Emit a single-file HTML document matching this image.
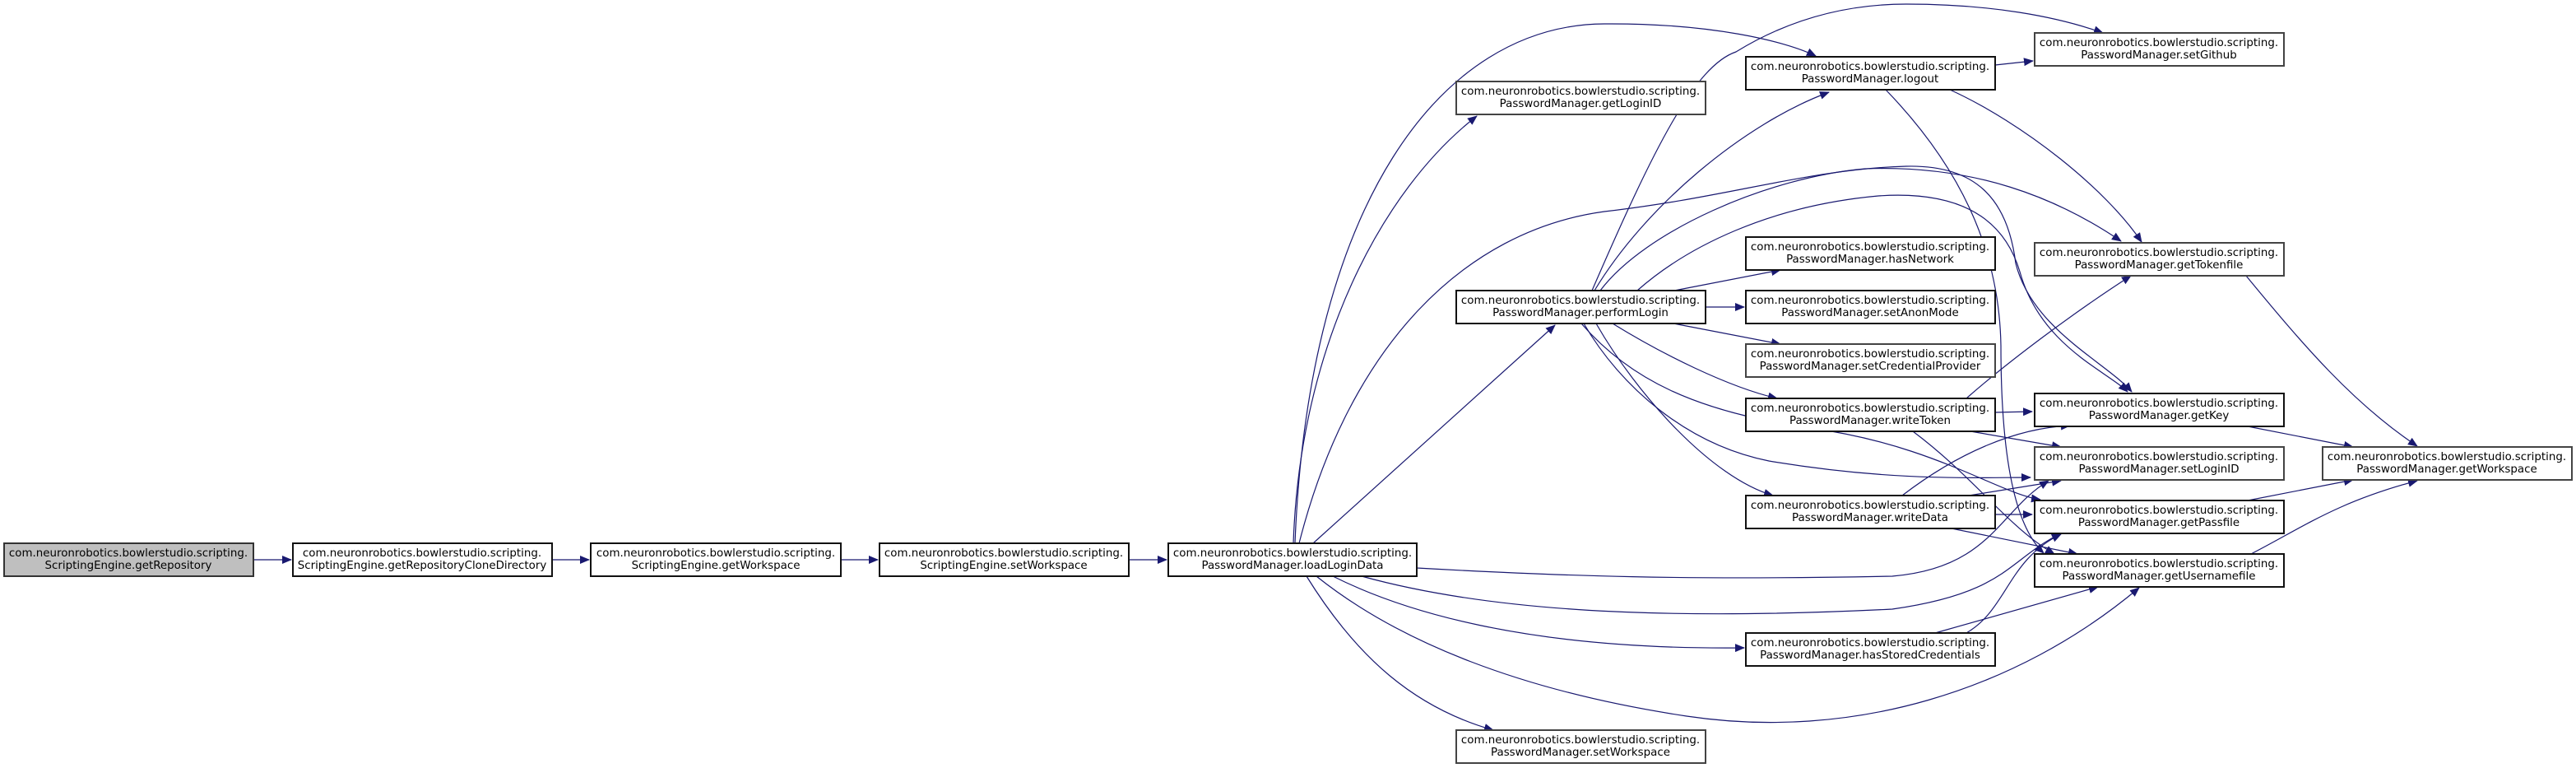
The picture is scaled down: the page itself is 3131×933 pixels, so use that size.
<!DOCTYPE html>
<html><head><meta charset="utf-8">
<style>
html,body{margin:0;padding:0;background:#fff;}
svg{display:block;}
text{font-family:"DejaVu Sans","Liberation Sans",sans-serif;font-size:13.4px;fill:#000;}
</style></head>
<body>
<svg width="3131" height="933" viewBox="0 0 3131 933" xmlns="http://www.w3.org/2000/svg">
<defs>
<marker id="a" markerWidth="12" markerHeight="10" refX="11" refY="5" orient="auto" markerUnits="userSpaceOnUse">
<path d="M0,0 L12,5 L0,10 Z" fill="#191970"/>
</marker>
</defs>
<g fill="none" stroke="#191970" stroke-width="1.2" marker-end="url(#a)">
<path d="M308,680 L354,680"/>
<path d="M671,680 L716,680"/>
<path d="M1022,680 L1067,680"/>
<path d="M1372,680 L1418,680"/>
<!-- loadLoginData edges -->
<path d="M1572,660 C1580,420 1680,230 1795,141"/>
<path d="M1574,660 C1590,250 1750,30 1950,29 C2080,28 2170,50 2207,68"/>
<path d="M1596,660 L1890,395"/>
<path d="M1579,660 C1640,420 1780,280 1950,257 C2100,240 2200,205 2317,202 C2400,200 2440,240 2450,320 C2470,400 2560,440 2591,476"/>
<path d="M1722,690 C1900,700 2050,705 2300,700 C2420,690 2430,620 2490,584"/>
<path d="M1655,700 C1800,740 2000,755 2300,740 C2440,720 2440,680 2505,648"/>
<path d="M1620,700 C1700,740 1850,790 2120,787"/>
<path d="M1600,700 C1700,780 1850,840 2050,870 C2250,900 2450,840 2600,714"/>
<path d="M1588,700 C1650,800 1720,860 1815,887"/>
<!-- performLogin edges -->
<path d="M1938,353 C2000,250 2120,150 2223,112"/>
<path d="M1935,353 C2010,180 2060,80 2110,63 C2180,20 2250,5 2317,5 C2420,5 2500,20 2556,40"/>
<path d="M1945,353 C2000,280 2150,215 2267,205 C2400,200 2500,240 2578,293"/>
<path d="M1990,353 C2050,300 2150,250 2283,238 C2400,230 2440,280 2455,330 C2480,420 2560,450 2586,476"/>
<path d="M2035,353 L2164,328"/>
<path d="M2073,373 L2120,373"/>
<path d="M2034,393 L2164,418"/>
<path d="M1960,393 C2020,430 2100,470 2160,484"/>
<path d="M1940,393 C1990,480 2080,580 2155,602"/>
<path d="M1925,393 C1970,470 2050,540 2150,560 C2300,585 2400,580 2468,580"/>
<path d="M1922,393 C1980,460 2060,500 2200,520 C2350,540 2430,600 2480,607"/>
<!-- logout edges -->
<path d="M2425,79 L2471,74"/>
<path d="M2370,109 C2460,150 2560,230 2603,294"/>
<path d="M2292,109 C2380,200 2430,300 2432,420 C2432,560 2450,640 2484,672"/>
<!-- writeToken edges -->
<path d="M2424,501 L2470,500"/>
<path d="M2390,484 C2440,440 2520,380 2590,335"/>
<path d="M2395,524 L2505,543"/>
<path d="M2325,524 C2400,580 2440,640 2497,673"/>
<!-- writeData edges -->
<path d="M2312,602 C2380,550 2450,520 2516,517"/>
<path d="M2393,602 L2505,584"/>
<path d="M2424,625 L2470,625"/>
<path d="M2372,642 L2525,673"/>
<!-- hasStoredCredentials edges -->
<path d="M2352,769 L2550,713"/>
<path d="M2390,769 C2440,740 2440,680 2505,649"/>
<!-- to getWorkspace -->
<path d="M2730,335 C2800,420 2860,490 2938,542"/>
<path d="M2732,518 L2860,543"/>
<path d="M2732,608 L2860,583"/>
<path d="M2736,673 C2800,640 2840,610 2938,584"/>
</g>
<g stroke-width="2">
<rect x="5" y="660" width="303" height="40" fill="#bfbfbf" stroke="#333"/>
<rect x="356" y="660" width="315" height="40" fill="#fff" stroke="#111"/>
<rect x="718" y="660" width="304" height="40" fill="#fff" stroke="#111"/>
<rect x="1069" y="660" width="303" height="40" fill="#fff" stroke="#111"/>
<rect x="1420" y="660" width="302" height="40" fill="#fff" stroke="#111"/>
<rect x="1770" y="99" width="303" height="40" fill="#fff" stroke="#444"/>
<rect x="1770" y="353" width="303" height="40" fill="#fff" stroke="#111"/>
<rect x="1770" y="887" width="303" height="40" fill="#fff" stroke="#444"/>
<rect x="2122" y="69" width="303" height="40" fill="#fff" stroke="#111"/>
<rect x="2122" y="288" width="303" height="40" fill="#fff" stroke="#111"/>
<rect x="2122" y="353" width="303" height="40" fill="#fff" stroke="#111"/>
<rect x="2122" y="418" width="303" height="40" fill="#fff" stroke="#444"/>
<rect x="2122" y="484" width="303" height="40" fill="#fff" stroke="#111"/>
<rect x="2122" y="602" width="303" height="40" fill="#fff" stroke="#111"/>
<rect x="2122" y="769" width="303" height="40" fill="#fff" stroke="#111"/>
<rect x="2473" y="40" width="303" height="40" fill="#fff" stroke="#444"/>
<rect x="2473" y="295" width="303" height="40" fill="#fff" stroke="#444"/>
<rect x="2473" y="478" width="303" height="40" fill="#fff" stroke="#111"/>
<rect x="2473" y="543" width="303" height="40" fill="#fff" stroke="#444"/>
<rect x="2473" y="608" width="303" height="40" fill="#fff" stroke="#111"/>
<rect x="2473" y="673" width="303" height="40" fill="#fff" stroke="#111"/>
<rect x="2823" y="543" width="303" height="40" fill="#fff" stroke="#444"/>
</g>
<g text-anchor="middle">
<text x="156" y="676">com.neuronrobotics.bowlerstudio.scripting.</text><text x="156" y="691">ScriptingEngine.getRepository</text>
<text x="513" y="676">com.neuronrobotics.bowlerstudio.scripting.</text><text x="513" y="691">ScriptingEngine.getRepositoryCloneDirectory</text>
<text x="870" y="676">com.neuronrobotics.bowlerstudio.scripting.</text><text x="870" y="691">ScriptingEngine.getWorkspace</text>
<text x="1220" y="676">com.neuronrobotics.bowlerstudio.scripting.</text><text x="1220" y="691">ScriptingEngine.setWorkspace</text>
<text x="1571" y="676">com.neuronrobotics.bowlerstudio.scripting.</text><text x="1571" y="691">PasswordManager.loadLoginData</text>
<text x="1921" y="115">com.neuronrobotics.bowlerstudio.scripting.</text><text x="1921" y="130">PasswordManager.getLoginID</text>
<text x="1921" y="369">com.neuronrobotics.bowlerstudio.scripting.</text><text x="1921" y="384">PasswordManager.performLogin</text>
<text x="1921" y="903">com.neuronrobotics.bowlerstudio.scripting.</text><text x="1921" y="918">PasswordManager.setWorkspace</text>
<text x="2273" y="85">com.neuronrobotics.bowlerstudio.scripting.</text><text x="2273" y="100">PasswordManager.logout</text>
<text x="2273" y="304">com.neuronrobotics.bowlerstudio.scripting.</text><text x="2273" y="319">PasswordManager.hasNetwork</text>
<text x="2273" y="369">com.neuronrobotics.bowlerstudio.scripting.</text><text x="2273" y="384">PasswordManager.setAnonMode</text>
<text x="2273" y="434">com.neuronrobotics.bowlerstudio.scripting.</text><text x="2273" y="449">PasswordManager.setCredentialProvider</text>
<text x="2273" y="500">com.neuronrobotics.bowlerstudio.scripting.</text><text x="2273" y="515">PasswordManager.writeToken</text>
<text x="2273" y="618">com.neuronrobotics.bowlerstudio.scripting.</text><text x="2273" y="633">PasswordManager.writeData</text>
<text x="2273" y="785">com.neuronrobotics.bowlerstudio.scripting.</text><text x="2273" y="800">PasswordManager.hasStoredCredentials</text>
<text x="2624" y="56">com.neuronrobotics.bowlerstudio.scripting.</text><text x="2624" y="71">PasswordManager.setGithub</text>
<text x="2624" y="311">com.neuronrobotics.bowlerstudio.scripting.</text><text x="2624" y="326">PasswordManager.getTokenfile</text>
<text x="2624" y="494">com.neuronrobotics.bowlerstudio.scripting.</text><text x="2624" y="509">PasswordManager.getKey</text>
<text x="2624" y="559">com.neuronrobotics.bowlerstudio.scripting.</text><text x="2624" y="574">PasswordManager.setLoginID</text>
<text x="2624" y="624">com.neuronrobotics.bowlerstudio.scripting.</text><text x="2624" y="639">PasswordManager.getPassfile</text>
<text x="2624" y="689">com.neuronrobotics.bowlerstudio.scripting.</text><text x="2624" y="704">PasswordManager.getUsernamefile</text>
<text x="2974" y="559">com.neuronrobotics.bowlerstudio.scripting.</text><text x="2974" y="574">PasswordManager.getWorkspace</text>
</g>
</svg>
</body></html>
